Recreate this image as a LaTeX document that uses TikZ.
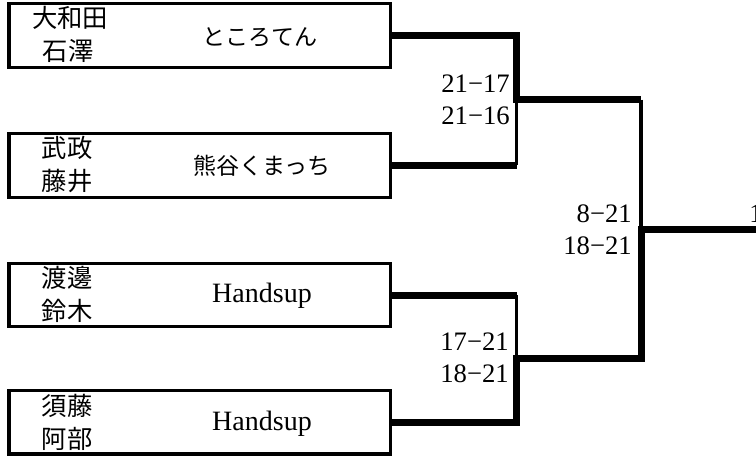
\documentclass[tikz,border=0pt]{standalone}
\usepackage{fontspec}
\setmainfont{Liberation Serif}
\newfontfamily\jp{Noto Sans CJK JP}
\begin{document}
\begin{tikzpicture}[x=0.75pt,y=-0.75pt,
  teambox/.style={draw,line width=2.4pt,minimum width=286.1pt,minimum height=47.6pt,inner sep=0pt},
  pname/.style={font=\jp\fontsize{19pt}{22pt}\selectfont,inner sep=0pt},
  tkana/.style={font=\jp\fontsize{17.3pt}{20pt}\selectfont,inner sep=0pt},
  tlatin/.style={font=\fontsize{21pt}{24pt}\selectfont,inner sep=0pt},
  score/.style={font=\fontsize{20pt}{24pt}\selectfont,inner sep=0pt,anchor=east},
  win/.style={line width=5.25pt,line join=miter},
  lose/.style={line width=2.3pt}]
\useasboundingbox (0,0) rectangle (756,457);
% boxes
\node[teambox] (b1) at (199.75,35.6) {};
\node[teambox] (b2) at (199.75,165.4) {};
\node[teambox] (b3) at (199.75,295) {};
\node[teambox] (b4) at (199.75,422.2) {};
% player names
\node[pname] (p1a) at (70,18) {大和田};
\node[pname] (p1b) at (68,51) {石澤};
\node[pname] (p2a) at (67,148) {武政};
\node[pname] (p2b) at (67,181) {藤井};
\node[pname] (p3a) at (67,278) {渡邊};
\node[pname] (p3b) at (67,311) {鈴木};
\node[pname] (p4a) at (67,406) {須藤};
\node[pname] (p4b) at (67,439) {阿部};
% team names
\node[tkana] (t1) at (260,37) {ところてん};
\node[tkana] (t2) at (262,166) {熊谷くまっち};
\node[tlatin] (t3) at (262,296) {Handsup};
\node[tlatin] (t4) at (262,424) {Handsup};
% junctions
\coordinate (m1) at (516.5,99.5);
\coordinate (m2) at (516.5,358.5);
\coordinate (f) at (641,229.5);
\coordinate (fe) at (760,229.5);
% match 1
\draw[win] (b1.east) -- (b1.east -| m1) -- (m1) -- (m1 -| f);
\draw[win] (b2.east) -- (b2.east -| m1);
\draw[lose] (m1) -- (b2.east -| m1);
% match 2
\draw[win] (b4.east) -- (b4.east -| m2) -- (m2) -- (m2 -| f) -- (f) -- (fe);
\draw[win] (b3.east) -- (b3.east -| m2);
\draw[lose] (b3.east -| m2) -- (m2);
% final
\draw[lose] (m1 -| f) -- (f);
% scores
\node[score] (s1a) at (510,84) {21−17};
\node[score] (s1b) at (510,116) {21−16};
\node[score] (s2a) at (509,342) {17−21};
\node[score] (s2b) at (509,374) {18−21};
\node[score] (s3a) at (632,214) {8−21};
\node[score] (s3b) at (632,246) {18−21};
\node[font=\fontsize{20pt}{24pt}\selectfont,inner sep=0pt,anchor=west] (fs) at (749,214) {1};
\end{tikzpicture}
\end{document}
